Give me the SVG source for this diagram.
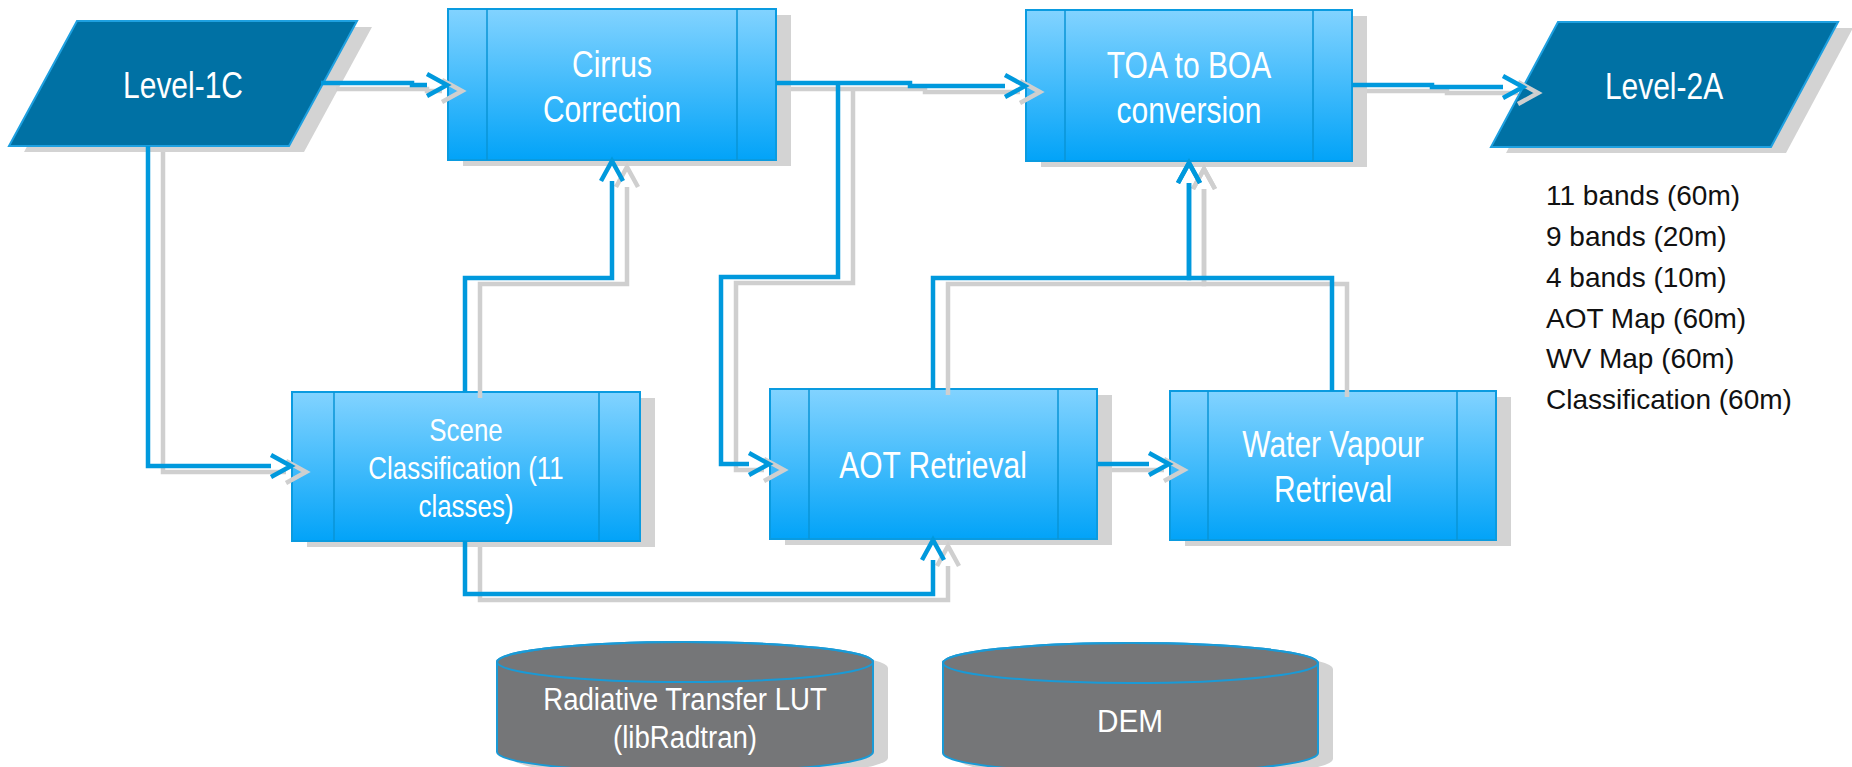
<svg xmlns="http://www.w3.org/2000/svg" width="1852" height="767" viewBox="0 0 1852 767">
<style>
.nsh{fill:#d3d3d3}
.para{fill:#0071a4;stroke:#1ea0e0;stroke-width:2}
.box{fill:url(#bg);stroke:#0a9be0;stroke-width:2}
.inner{stroke:#0a95d6;stroke-width:1.5;fill:none}
.cyl{fill:#757678;stroke:#1a9ad6;stroke-width:2}
.lbl{font-family:"Liberation Sans",Arial,sans-serif;fill:#fff;text-anchor:middle}
.lst{font-family:"Liberation Sans",Arial,sans-serif;font-size:28px;fill:#111}
.conn{fill:none;stroke:#0099dd;stroke-width:4.5;marker-end:url(#ah)}
.csh{fill:none;stroke:#cfcfcf;stroke-width:4.5;marker-end:url(#ahs)}
</style>
<defs>
<linearGradient id="bg" x1="0" y1="0" x2="0" y2="1">
<stop offset="0" stop-color="#82d3ff"/>
<stop offset="1" stop-color="#02a3f8"/>
</linearGradient>
<marker id="ah" markerUnits="userSpaceOnUse" orient="auto" refX="0" refY="0" markerWidth="30" markerHeight="30" overflow="visible">
<path d="M0,-11 L20,0 L0,11" fill="none" stroke="#0099dd" stroke-width="4.5"/>
</marker>
<marker id="ahs" markerUnits="userSpaceOnUse" orient="auto" refX="0" refY="0" markerWidth="30" markerHeight="30" overflow="visible">
<path d="M0,-11 L20,0 L0,11" fill="none" stroke="#cfcfcf" stroke-width="4.5"/>
</marker>
</defs>
<rect width="1852" height="767" fill="#fff"/>

<g id="node-shadows">
<polygon class="nsh" points="92,27 372,27 304,152 24,152"/>
<polygon class="nsh" points="1573,28 1853,28 1786,153 1506,153"/>
<rect class="nsh" x="463" y="15" width="328" height="151"/>
<rect class="nsh" x="1041" y="16" width="326" height="151"/>
<rect class="nsh" x="307" y="398" width="348" height="149"/>
<rect class="nsh" x="785" y="395" width="327" height="150"/>
<rect class="nsh" x="1185" y="397" width="326" height="149"/>
<path class="nsh" d="M512,668 A188,20 0 0,1 888,668 L888,758 A188,20 0 0,1 512,758 Z"/>
<path class="nsh" d="M958,669 A187.5,20 0 0,1 1333,669 L1333,759 A187.5,20 0 0,1 958,759 Z"/>
</g>

<g id="level-1c">
<polygon class="para" points="77,21 357,21 289,146 9,146"/>
<text class="lbl" font-size="37" transform="matrix(0.81 0 0 1 183 0)" x="0" y="98">Level-1C</text>
</g>

<g id="level-2a">
<polygon class="para" points="1558,22 1838,22 1771,147 1491,147"/>
<text class="lbl" font-size="37" transform="matrix(0.81 0 0 1 1664 0)" x="0" y="99">Level-2A</text>
</g>

<g id="cirrus">
<rect class="box" x="448" y="9" width="328" height="151"/>
<line class="inner" x1="487" y1="9" x2="487" y2="160"/>
<line class="inner" x1="737" y1="9" x2="737" y2="160"/>
<text class="lbl" font-size="37" transform="matrix(0.81 0 0 1 612 0)"><tspan x="0" y="77">Cirrus</tspan><tspan x="0" y="122">Correction</tspan></text>
</g>

<g id="toa-boa">
<rect class="box" x="1026" y="10" width="326" height="151"/>
<line class="inner" x1="1065" y1="10" x2="1065" y2="161"/>
<line class="inner" x1="1313" y1="10" x2="1313" y2="161"/>
<text class="lbl" font-size="37" transform="matrix(0.81 0 0 1 1189 0)"><tspan x="0" y="78">TOA to BOA</tspan><tspan x="0" y="123">conversion</tspan></text>
</g>

<g id="scene">
<rect class="box" x="292" y="392" width="348" height="149"/>
<line class="inner" x1="334" y1="392" x2="334" y2="541"/>
<line class="inner" x1="599" y1="392" x2="599" y2="541"/>
<text class="lbl" font-size="32" transform="matrix(0.81 0 0 1 466 0)"><tspan x="0" y="441">Scene</tspan><tspan x="0" y="479">Classification (11</tspan><tspan x="0" y="517">classes)</tspan></text>
</g>

<g id="aot">
<rect class="box" x="770" y="389" width="327" height="150"/>
<line class="inner" x1="809" y1="389" x2="809" y2="539"/>
<line class="inner" x1="1058" y1="389" x2="1058" y2="539"/>
<text class="lbl" font-size="37" transform="matrix(0.81 0 0 1 933 0)" x="0" y="478">AOT Retrieval</text>
</g>

<g id="water-vapour">
<rect class="box" x="1170" y="391" width="326" height="149"/>
<line class="inner" x1="1208" y1="391" x2="1208" y2="540"/>
<line class="inner" x1="1457" y1="391" x2="1457" y2="540"/>
<text class="lbl" font-size="37" transform="matrix(0.81 0 0 1 1333 0)"><tspan x="0" y="457">Water Vapour</tspan><tspan x="0" y="502">Retrieval</tspan></text>
</g>

<g id="rt-lut">
<path class="cyl" d="M497,662 A188,20 0 0,1 873,662 L873,752 A188,20 0 0,1 497,752 Z"/>
<ellipse cx="685" cy="662" rx="188" ry="20" fill="none" stroke="#1a9ad6" stroke-width="2"/>
<text class="lbl" font-size="31" transform="matrix(0.89 0 0 1 685 0)"><tspan x="0" y="710">Radiative Transfer LUT</tspan><tspan x="0" y="748">(libRadtran)</tspan></text>
</g>

<g id="dem">
<path class="cyl" d="M943,663 A187.5,20 0 0,1 1318,663 L1318,753 A187.5,20 0 0,1 943,753 Z"/>
<ellipse cx="1130.5" cy="663" rx="187.5" ry="20" fill="none" stroke="#1a9ad6" stroke-width="2"/>
<text class="lbl" font-size="31" transform="matrix(0.96 0 0 1 1130 0)" x="0" y="732">DEM</text>
</g>

<g id="connector-shadows" transform="translate(15,6)">
<polyline class="csh" points="321,83 412,83 412,85 427,85"/>
<polyline class="csh" points="776,83 910,83 910,86 1005,86"/>
<polyline class="csh" points="838,83 838,277 721,277 721,464 749,464"/>
<polyline class="csh" points="1352,85 1432,85 1432,87 1503,87"/>
<polyline class="csh" points="148,146 148,466 271,466"/>
<polyline class="csh" points="465,392 465,278 612,278 612,181"/>
<polyline class="csh" points="465,541 465,594 933,594 933,560"/>
<polyline class="csh" points="1097,464 1149,464"/>
<polyline class="csh" points="933,389 933,278 1189,278 1189,183"/>
<polyline class="csh" points="1332,391 1332,278 1189,278 1189,183"/>
</g>

<g id="connectors">
<polyline class="conn" points="321,83 412,83 412,85 427,85"/>
<polyline class="conn" points="776,83 910,83 910,86 1005,86"/>
<polyline class="conn" points="838,83 838,277 721,277 721,464 749,464"/>
<polyline class="conn" points="1352,85 1432,85 1432,87 1503,87"/>
<polyline class="conn" points="148,146 148,466 271,466"/>
<polyline class="conn" points="465,392 465,278 612,278 612,181"/>
<polyline class="conn" points="465,541 465,594 933,594 933,560"/>
<polyline class="conn" points="1097,464 1149,464"/>
<polyline class="conn" points="933,389 933,278 1189,278 1189,183"/>
<polyline class="conn" points="1332,391 1332,278 1189,278 1189,183"/>
</g>

<g id="output-list">
<text class="lst" x="1546" y="205">11 bands (60m)</text>
<text class="lst" x="1546" y="246">9 bands (20m)</text>
<text class="lst" x="1546" y="287">4 bands (10m)</text>
<text class="lst" x="1546" y="328">AOT Map (60m)</text>
<text class="lst" x="1546" y="368">WV Map (60m)</text>
<text class="lst" x="1546" y="409">Classification (60m)</text>
</g>
</svg>
